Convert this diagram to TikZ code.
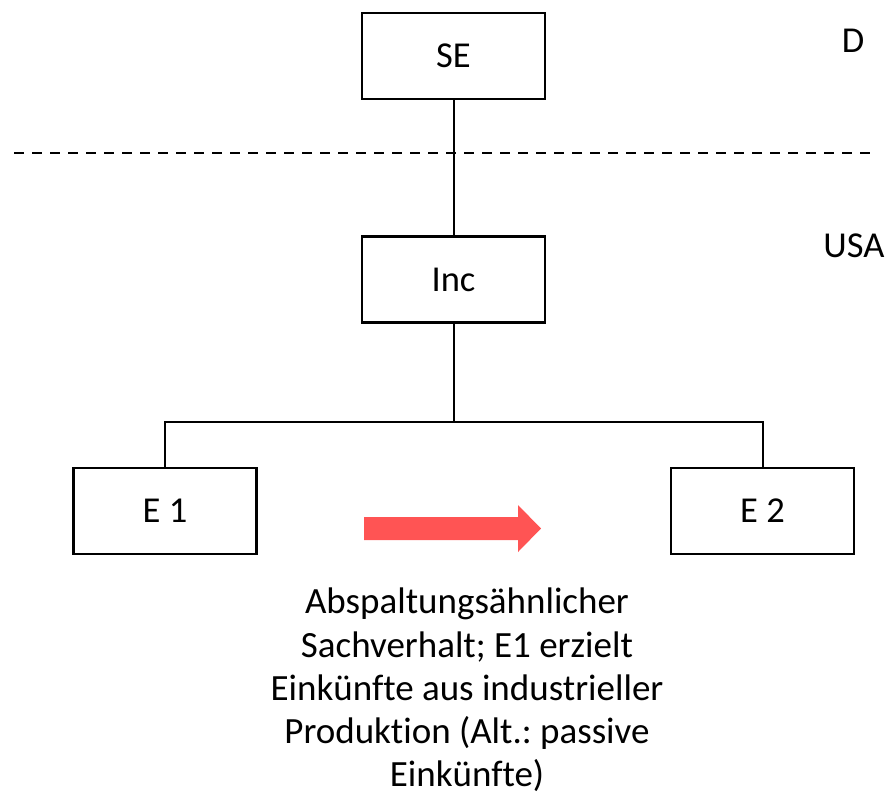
\documentclass[tikz,border=0pt]{standalone}
\usepackage{fontspec}
\setmainfont[Ligatures=NoCommon]{Carlito}
\begin{document}
\frenchspacing
\begin{tikzpicture}[x=1pt,y=-1pt,
  entity/.style={draw=black,line width=2.6pt,fill=white,minimum width=183pt,minimum height=86pt,inner sep=0pt,
    font=\fontsize{36.5}{43}\selectfont},
  link/.style={draw=black,line width=2pt},
  border/.style={draw=black,line width=2.6pt,dash pattern=on 10pt off 8pt},
  country/.style={font=\fontsize{36.5}{43}\selectfont,inner sep=0pt,anchor=base},
  shiftarrow/.style={fill=arrowred,draw=none}
]
\definecolor{arrowred}{HTML}{FF5454}
\useasboundingbox (0,0) rectangle (890,798);

% national border
\coordinate (bl) at (14,153);
\coordinate (br) at (877,153);
\draw[border] (bl) -- (br);

% entities
\node[entity] (se)  at (453.5,56)  {SE};
\node[entity] (inc) at (453.5,279.5) {Inc};
\node[entity] (e1)  at (165,511)   {E 1};
\node[entity] (e2)  at (762.5,511) {E 2};

% ownership lines
\coordinate (fork) at (453.5,422);
\draw[link] (se.south) -- (inc.north);
\draw[link] (inc.south) -- (fork);
\draw[link] (fork) -| (e1.north);
\draw[link] (fork) -| (e2.north);

% country labels
\node[country] (d)   at (853,52)  {D};
\node[country] (usa) at (854,257) {USA};

% transfer arrow
\fill[shiftarrow] (364,517) -- (518,517) -- (518,505) -- (541,528.5) -- (518,552) -- (518,540) -- (364,540) -- cycle;

% explanation
\node[align=center,anchor=north,inner sep=0pt,font=\fontsize{37}{43.2}\selectfont] (note) at (467,588)
  {Abspaltungsähnlicher\\Sachverhalt; E1 erzielt\\Einkünfte aus industrieller\\Produktion (Alt.: passive\\Einkünfte)};
\end{tikzpicture}
\end{document}
